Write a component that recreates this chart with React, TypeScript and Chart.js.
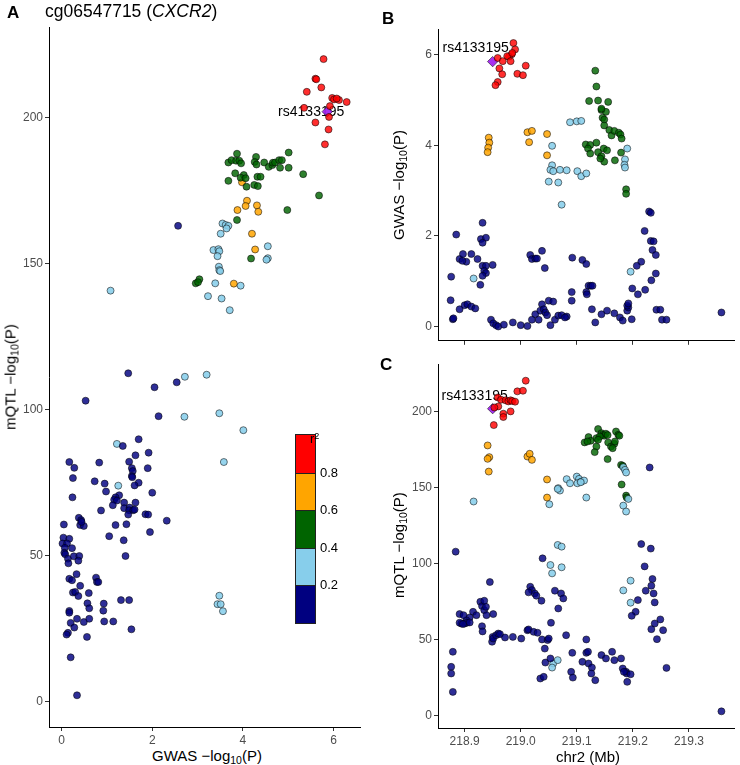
import React, { useEffect, useRef } from 'react';
import { Chart, registerables } from 'chart.js';
Chart.register(...registerables);

type P = [number, number];

// ---------- Panel A: GWAS -log10(P) vs mQTL -log10(P) ----------
const aNavy: P[] = [
  [1.70,89.9],[1.35,87.6],[1.63,84.4],[1.92,85.3],[0.17,82.1],[0.83,81.9],[1.49,82.2],[0.28,80.1],[1.55,80.0],[1.57,79.0],
  [1.55,77.3],[1.56,76.9],[1.90,80.0],[0.25,76.6],[0.73,75.5],[0.95,74.7],[1.70,75.0],[1.61,74.1],[0.98,72.0],[2.00,71.6],
  [0.24,70.0],[1.27,70.7],[1.19,70.0],[1.16,69.2],[1.22,68.9],[1.38,68.2],[1.13,67.3],[1.63,68.2],[1.38,66.3],[1.50,66.5],
  [1.49,65.6],[1.58,65.6],[1.61,65.8],[1.47,64.1],[0.87,65.5],[1.85,64.2],[1.91,64.1],[0.05,60.7],[0.38,63.0],[0.43,62.2],
  [0.41,60.5],[0.49,60.2],[0.44,61.6],[1.19,60.5],[1.43,60.8],[2.32,62.0],[1.05,56.7],[1.95,58.1],[1.37,55.3],[1.41,49.9],
  [0.04,56.2],[0.17,55.8],[0.02,54.2],[0.12,54.2],[0.07,52.7],[0.23,52.6],[0.06,51.0],[0.08,50.5],[0.14,49.0],[0.27,49.8],
  [0.39,49.9],[0.37,48.3],[0.15,47.4],[0.33,43.7],[0.17,42.1],[0.23,41.6],[0.76,42.5],[0.78,41.0],[0.81,41.0],[0.41,39.7],
  [0.25,37.4],[0.30,37.6],[0.37,36.2],[0.60,37.2],[0.57,33.7],[0.93,33.6],[1.31,34.8],[1.49,34.8],[0.61,32.0],[0.92,31.2],
  [0.17,31.1],[0.17,30.5],[0.34,28.4],[0.20,27.0],[0.49,27.3],[0.61,28.4],[0.94,27.5],[1.14,27.5],[0.28,25.4],[1.54,24.8],
  [0.14,23.6],[0.11,23.0],[0.56,22.2],[0.20,15.2],[0.34,2.2],[2.05,107.7],[2.54,109.4],[0.53,103.1],[2.14,97.8],[1.47,112.5],
  [2.57,163.0],
];
const aSky: P[] = [
  [1.22,88.3],[1.25,74.0],[4.01,93.0],[3.58,82.1],[3.48,36.3],[3.44,33.4],[3.51,33.4],[3.56,31.0],[2.71,97.6],[3.48,98.8],
  [1.08,140.8],[2.72,111.3],[3.20,112.0],[3.55,163.8],[3.62,163.3],[3.68,163.0],[3.64,162.1],[3.51,160.3],[3.35,154.7],[3.46,155.0],
  [3.48,154.3],[3.44,152.6],[4.55,156.0],[4.55,151.9],[4.52,151.4],[3.47,149.0],[3.48,147.8],[3.50,147.5],[3.39,143.3],[3.95,142.5],
  [3.23,138.9],[3.53,138.1],[3.71,134.1],
];
const aGreen: P[] = [
  [5.01,188.1],[3.87,187.7],[3.68,184.7],[3.75,185.5],[3.85,185.3],[3.92,185.3],[3.96,184.4],[4.29,186.6],[4.26,184.9],[4.30,184.0],
  [4.47,184.7],[4.57,183.2],[4.65,183.8],[4.66,184.6],[4.71,184.7],[4.80,185.5],[4.86,185.5],[4.82,182.9],[5.01,182.9],[5.33,180.7],
  [3.83,181.0],[4.02,180.4],[3.95,179.5],[4.06,179.3],[3.68,178.4],[4.32,179.8],[4.39,179.8],[4.08,176.4],[4.25,177.0],[4.33,176.6],
  [5.68,173.4],[4.98,168.4],[3.87,165.0],[4.18,151.8],[2.96,143.3],[3.04,144.7],[3.01,143.7],
];
const aOrange: P[] = [
  [3.98,177.9],[4.09,171.6],[4.06,169.8],[3.88,168.4],[4.31,170.0],[4.34,167.8],[4.20,160.3],[4.27,154.9],[3.80,143.2],
];
const aRed: P[] = [
  [5.78,220.1],[5.60,213.4],[5.62,213.2],[5.73,210.4],[5.41,208.9],[5.97,206.8],[6.01,206.3],[6.12,206.1],[6.07,206.6],[6.29,205.4],
  [5.35,203.4],[5.90,200.3],[5.60,198.4],[5.89,196.0],[5.81,190.9],[5.92,204.0],
];
const aLead: P[] = [[5.86,202.1]];

// ---------- Panel B: position (Mb) vs GWAS -log10(P) ----------
const bNavy: P[] = [
  [218.932,2.29],[218.885,2.03],[218.929,1.93],[218.938,1.96],[218.932,1.85],[219.229,2.54],[219.232,2.51],[219.221,2.11],[219.232,1.89],[219.237,1.88],
  [219.235,1.69],[219.241,1.58],[219.241,1.17],[219.233,1.02],[219.038,1.67],[219.017,1.58],[219.020,1.49],[219.026,1.50],[219.029,1.50],[219.043,1.29],
  [219.092,1.52],[219.110,1.47],[219.117,1.38],[218.891,1.49],[218.897,1.60],[218.903,1.43],[218.896,1.45],[218.912,1.60],[218.923,1.49],[218.932,1.34],
  [218.938,1.34],[218.950,1.36],[218.935,1.23],[218.938,1.18],[218.932,1.12],[218.928,0.92],[218.876,1.10],[219.215,1.43],[219.207,1.34],[219.199,0.84],
  [219.209,0.71],[219.222,0.81],[219.121,0.90],[219.125,0.90],[219.128,0.90],[219.117,0.76],[219.118,0.71],[219.091,0.76],[219.091,0.57],[218.875,0.58],
  [218.879,0.16],[218.880,0.18],[218.891,0.38],[218.900,0.47],[218.905,0.49],[218.912,0.44],[218.919,0.40],[219.050,0.57],[219.058,0.55],[219.038,0.49],
  [219.026,0.27],[219.035,0.35],[219.041,0.38],[219.044,0.31],[219.047,0.25],[218.947,0.15],[218.951,0.07],[218.956,0.03],[218.960,0.00],[218.970,0.04],
  [218.986,0.09],[219.000,0.03],[219.012,0.01],[219.020,0.15],[219.032,0.15],[219.053,0.03],[219.061,0.15],[219.067,0.24],[219.073,0.25],[219.082,0.22],
  [219.079,0.20],[219.127,0.38],[219.133,0.09],[219.144,0.27],[219.154,0.35],[219.167,0.29],[219.177,0.20],[219.182,0.13],[219.190,0.35],[219.192,0.42],
  [219.190,0.46],[219.192,0.51],[219.198,0.16],[219.242,0.37],[219.249,0.37],[219.252,0.15],[219.260,0.15],[219.358,0.31],
];
const bSky: P[] = [
  [219.088,4.51],[219.100,4.53],[219.108,4.54],[219.056,3.99],[219.056,3.56],[219.053,3.46],[219.058,3.43],[219.070,3.46],[219.082,3.45],[219.101,3.43],
  [219.108,3.32],[219.117,3.38],[219.067,3.18],[219.050,3.20],[219.073,2.69],[219.190,3.93],[219.186,3.69],[219.185,3.57],[219.186,3.51],[218.916,1.06],
  [219.196,1.21],
];
const bGreen: P[] = [
  [219.133,5.65],[219.135,5.30],[219.122,4.98],[219.138,4.99],[219.156,4.96],[219.144,4.78],[219.152,4.74],[219.144,4.81],[219.146,4.61],[219.149,4.57],
  [219.149,4.44],[219.158,4.34],[219.162,4.22],[219.167,4.32],[219.175,4.28],[219.178,4.24],[219.180,4.15],[219.116,4.02],[219.124,4.01],[219.120,3.93],
  [219.135,4.06],[219.124,3.82],[219.138,3.85],[219.148,3.93],[219.154,3.89],[219.144,3.76],[219.149,3.64],[219.142,3.71],[219.168,3.67],[219.179,3.84],
  [219.188,3.03],[219.188,2.93],
];
const bOrange: P[] = [
  [218.943,4.17],[218.944,4.06],[218.942,3.95],[218.941,3.85],[219.012,4.29],[219.020,4.32],[219.015,4.07],[219.047,4.25],[219.047,3.78],
];
const bRed: P[] = [
  [218.987,6.26],[218.990,6.12],[218.984,6.01],[218.979,5.96],[218.976,5.97],[218.982,5.86],[218.985,6.04],[218.959,5.93],[218.968,5.86],[218.962,5.70],
  [218.967,5.57],[218.994,5.58],[219.004,5.55],[219.009,5.76],[218.959,5.40],[218.955,5.33],
];
const bLead: P[] = [[218.950,5.85]];

// ---------- Panel C: position (Mb) vs mQTL -log10(P) ----------
const cNavy: P[] = [
  [219.230,163.1],[218.884,107.7],[219.215,112.7],[219.232,109.7],[219.221,98.0],[219.039,103.3],[218.945,87.7],[219.235,89.7],[219.233,85.3],[219.237,80.2],
  [219.239,74.3],[219.223,82.0],[219.017,84.6],[219.020,82.4],[219.025,80.2],[219.028,78.7],[219.014,80.9],[219.037,75.4],[219.061,82.0],[219.072,80.2],
  [219.076,76.9],[219.067,70.3],[219.054,60.9],[219.209,75.8],[219.205,68.1],[219.198,65.5],[219.239,60.4],[219.249,63.1],[219.233,56.7],[219.254,56.0],
  [219.243,50.1],[219.260,31.2],[218.928,74.7],[218.931,71.9],[218.935,69.2],[218.938,71.4],[218.935,75.4],[218.939,65.9],[218.931,58.6],[218.932,55.2],
  [218.915,68.1],[218.921,65.9],[218.909,64.4],[218.903,62.6],[218.891,66.6],[218.898,65.9],[218.894,60.4],[218.900,60.4],[218.904,60.9],[218.909,61.1],
  [218.891,60.9],[218.897,60.0],[218.951,66.6],[218.950,51.6],[218.949,48.4],[218.951,50.5],[218.956,52.7],[218.960,53.8],[218.963,53.4],[218.972,51.2],
  [218.986,51.6],[219.001,50.5],[219.012,56.0],[219.014,56.5],[219.023,54.9],[219.030,54.3],[219.038,49.9],[219.048,49.5],[219.043,43.9],[219.044,34.7],
  [219.053,37.4],[219.050,50.5],[219.035,24.2],[219.041,25.3],[219.081,52.7],[219.092,41.1],[219.090,28.6],[219.093,24.8],[219.110,35.2],[219.117,49.9],
  [219.117,41.1],[219.120,41.8],[219.121,34.1],[219.127,31.4],[219.126,27.5],[219.133,23.1],[219.144,39.6],[219.152,37.4],[219.163,41.8],[219.167,36.3],
  [219.179,37.4],[219.182,30.8],[219.188,28.6],[219.189,27.5],[219.190,22.0],[219.196,27.0],[219.184,28.6],[218.876,31.9],[218.876,27.5],[218.879,41.8],
  [218.879,15.4],[219.358,2.6],
];
const cSky: P[] = [
  [219.082,155.4],[219.088,152.7],[219.100,157.1],[219.104,155.6],[219.101,152.7],[219.108,153.8],[219.113,154.5],[219.107,153.4],[219.067,149.5],[219.070,147.9],
  [219.066,149.0],[219.117,143.3],[219.051,138.9],[218.916,140.7],[219.183,163.3],[219.186,161.5],[219.188,159.8],[219.183,138.0],[219.188,134.1],[219.192,142.4],
  [219.066,112.1],[219.073,111.0],[219.053,98.9],[219.056,93.4],[219.073,97.4],[219.196,88.6],[219.183,82.2],[219.196,74.1],[219.058,34.1],[219.056,31.4],
  [219.066,36.3],
];
const cGreen: P[] = [
  [219.138,188.4],[219.144,185.7],[219.147,184.6],[219.149,184.0],[219.152,185.3],[219.155,184.4],[219.121,183.1],[219.125,180.7],[219.114,179.6],[219.119,180.2],
  [219.135,182.4],[219.141,183.5],[219.135,176.9],[219.132,173.2],[219.138,181.3],[219.156,179.6],[219.161,176.9],[219.167,178.7],[219.168,180.2],[219.170,186.8],
  [219.174,184.6],[219.176,184.0],[219.164,175.8],[219.155,168.6],[219.179,164.8],[219.182,164.2],[219.180,151.9],[219.188,144.6],[219.189,143.3],
];
const cOrange: P[] = [
  [218.941,177.6],[218.944,169.9],[218.941,168.8],[218.943,160.4],[219.012,170.3],[219.016,172.1],[219.020,168.1],[219.047,155.2],[219.047,143.3],
];
const cRed: P[] = [
  [219.009,220.2],[218.994,213.2],[219.004,213.6],[218.959,209.2],[218.965,207.7],[218.973,207.3],[218.978,206.6],[218.982,207.3],[218.985,206.8],[218.990,206.4],
  [218.960,203.3],[218.953,202.6],[218.982,200.0],[218.969,198.5],[218.969,196.3],[218.952,191.0],
];
const cLead: P[] = [[218.950,201.8]];

// ---------- ticks / labels ----------
const leadSnp = 'rs4133195';
const aXTicks = [0, 2, 4, 6];
const aYTicks = [0, 50, 100, 150, 200];
const bYTicks = [0, 2, 4, 6];
const cYTicks = [0, 50, 100, 150, 200];
const posTicks = [218.9, 219.0, 219.1, 219.2, 219.3];
const legendBreaks = ['0.8', '0.6', '0.4', '0.2'];

const FONT = '"Liberation Sans", Arial, Helvetica, sans-serif';
const GROUP_COLORS = [
  'rgba(0,0,128,0.82)',
  'rgba(135,206,235,0.88)',
  'rgba(0,100,0,0.82)',
  'rgba(255,165,0,0.85)',
  'rgba(255,0,0,0.82)',
];
const LEAD_COLOR = 'rgba(160,32,240,0.92)';
const LEGEND_COLORS = ['#FF0000', '#FFA500', '#006400', '#87CEEB', '#000080'];

interface PanelOpts {
  groups: P[][];
  lead: P[];
  xMin: number; xMax: number; yMin: number; yMax: number;
  xTicks: number[]; yTicks: number[];
  showXLabels: boolean;
  xFmt: (v: number) => string;
  yWidth: number; xHeight: number; padTop: number; padRight: number;
  labelDx: number; labelDy: number;
}

function makeConfig(o: PanelOpts): any {
  const datasets: any[] = o.groups.map((g, i) => ({
    data: g.map(([x, y]) => ({ x, y })),
    backgroundColor: GROUP_COLORS[i],
    borderColor: 'rgba(0,0,0,0.75)',
    borderWidth: 0.7,
    pointRadius: 3.5,
    pointStyle: 'circle',
  }));
  datasets.push({
    data: o.lead.map(([x, y]) => ({ x, y })),
    backgroundColor: LEAD_COLOR,
    borderColor: 'rgba(0,0,0,0.75)',
    borderWidth: 0.7,
    pointRadius: 5.2,
    pointStyle: 'rectRot',
  });
  const leadIndex = datasets.length - 1;
  const labelPlugin = {
    id: 'leadLabel',
    beforeDatasetsDraw(chart: any) {
      const meta = chart.getDatasetMeta(leadIndex);
      const el = meta.data[0];
      if (!el) return;
      const ctx = chart.ctx;
      ctx.save();
      ctx.font = `14px ${FONT}`;
      ctx.fillStyle = '#000';
      ctx.textAlign = 'center';
      ctx.textBaseline = 'middle';
      ctx.fillText(leadSnp, el.x + o.labelDx, el.y + o.labelDy);
      ctx.restore();
    },
  };
  const grid = { display: true, drawOnChartArea: false, drawTicks: true, tickLength: 4, color: '#333333', lineWidth: 1 };
  const border = { display: true, color: '#000000', width: 1 };
  const tickFont = { family: FONT, size: 12 };
  return {
    type: 'scatter',
    data: { datasets },
    plugins: [labelPlugin],
    options: {
      animation: false,
      responsive: false,
      devicePixelRatio: 1,
      layout: { padding: { top: o.padTop, right: o.padRight, left: 0, bottom: 0 } },
      plugins: { legend: { display: false }, tooltip: { enabled: false }, title: { display: false } },
      scales: {
        x: {
          type: 'linear',
          min: o.xMin, max: o.xMax,
          afterBuildTicks: (s: any) => { s.ticks = o.xTicks.map((v) => ({ value: v })); },
          afterFit: (s: any) => { s.height = o.xHeight; },
          grid, border,
          ticks: { display: o.showXLabels, color: '#4D4D4D', font: tickFont, padding: 2, maxRotation: 0, autoSkip: false, callback: (v: any) => o.xFmt(Number(v)) },
        },
        y: {
          type: 'linear',
          min: o.yMin, max: o.yMax,
          afterBuildTicks: (s: any) => { s.ticks = o.yTicks.map((v) => ({ value: v })); },
          afterFit: (s: any) => { s.width = o.yWidth; },
          grid, border,
          ticks: { color: '#4D4D4D', font: tickFont, padding: 2, autoSkip: false, callback: (v: any) => String(v) },
        },
      },
    },
  };
}

const subStyle: React.CSSProperties = { fontSize: '0.7em', verticalAlign: '-0.3em', lineHeight: 0 };

function AxisTitle({ text, cx, cy, rotate }: { text: string; cx: number; cy: number; rotate?: boolean }) {
  const parts = text.split('10');
  return (
    <div style={{
      position: 'absolute', left: cx, top: cy, whiteSpace: 'nowrap', fontSize: 15, lineHeight: 1, color: '#000',
      transform: rotate ? 'translate(-50%,-50%) rotate(-90deg)' : 'translate(-50%,-50%)',
    }}>
      {parts.length > 1 ? (<>{parts[0]}<span style={subStyle}>10</span>{parts[1]}</>) : text}
    </div>
  );
}

export default function App() {
  const aRef = useRef<HTMLCanvasElement>(null);
  const bRef = useRef<HTMLCanvasElement>(null);
  const cRef = useRef<HTMLCanvasElement>(null);

  useEffect(() => {
    const posFmt = (v: number) => v.toFixed(1);
    const charts = [
      new Chart(aRef.current!, makeConfig({
        groups: [aNavy, aSky, aGreen, aOrange, aRed], lead: aLead,
        xMin: -0.278, xMax: 6.586, yMin: -8.66, yMax: 231.1,
        xTicks: aXTicks, yTicks: aYTicks, showXLabels: true, xFmt: (v) => String(v),
        yWidth: 49, xHeight: 18, padTop: 27, padRight: 3, labelDx: -16, labelDy: 0,
      })),
      new Chart(bRef.current!, makeConfig({
        groups: [bNavy, bSky, bGreen, bOrange, bRed], lead: bLead,
        xMin: 218.8525, xMax: 219.3806, yMin: -0.316, yMax: 6.57,
        xTicks: posTicks, yTicks: bYTicks, showXLabels: false, xFmt: posFmt,
        yWidth: 38, xHeight: 8, padTop: 29, padRight: 2, labelDx: -17, labelDy: -13,
      })),
      new Chart(cRef.current!, makeConfig({
        groups: [cNavy, cSky, cGreen, cOrange, cRed], lead: cLead,
        xMin: 218.8525, xMax: 219.3806, yMin: -8.37, yMax: 231.2,
        xTicks: posTicks, yTicks: cYTicks, showXLabels: true, xFmt: posFmt,
        yWidth: 38, xHeight: 17, padTop: 24, padRight: 2, labelDx: -18, labelDy: -13,
      })),
    ];
    return () => charts.forEach((c) => c.destroy());
  }, []);

  const segH = 37.6;
  return (
    <div style={{ position: 'fixed', left: 0, top: 0, width: 740, height: 765, background: '#fff', fontFamily: FONT, overflow: 'hidden' }}>
      <canvas ref={aRef} width={366} height={745} style={{ position: 'absolute', left: 0, top: 0 }} />
      <canvas ref={bRef} width={340} height={350} style={{ position: 'absolute', left: 400, top: 0 }} />
      <canvas ref={cRef} width={340} height={405} style={{ position: 'absolute', left: 400, top: 340 }} />

      {/* panel letters and title */}
      <div style={{ position: 'absolute', left: 7, top: 3.5, fontSize: 17, fontWeight: 'bold', lineHeight: 1 }}>A</div>
      <div style={{ position: 'absolute', left: 45, top: 2.5, fontSize: 17.5, lineHeight: 1, whiteSpace: 'nowrap' }}>
        cg06547715 (<i>CXCR2</i>)
      </div>
      <div style={{ position: 'absolute', left: 382, top: 9.8, fontSize: 17, fontWeight: 'bold', lineHeight: 1 }}>B</div>
      <div style={{ position: 'absolute', left: 380, top: 356, fontSize: 17, fontWeight: 'bold', lineHeight: 1 }}>C</div>

      {/* axis titles */}
      <AxisTitle text="mQTL −log10(P)" cx={10} cy={377} rotate />
      <AxisTitle text="GWAS −log10(P)" cx={207} cy={755} />
      <AxisTitle text="GWAS −log10(P)" cx={398} cy={185} rotate />
      <AxisTitle text="mQTL −log10(P)" cx={398} cy={545} rotate />
      <AxisTitle text="chr2 (Mb)" cx={588} cy={756} />

      {/* r² colour bar */}
      <div style={{ position: 'absolute', left: 295, top: 434, width: 19, height: segH * 5, border: '1px solid #222', boxSizing: 'content-box' }}>
        {LEGEND_COLORS.map((c, i) => (
          <div key={i} style={{ height: segH, background: c, boxSizing: 'border-box', borderTop: i > 0 ? '1px solid #222' : 'none' }} />
        ))}
      </div>
      {legendBreaks.map((t, i) => (
        <div key={t} style={{ position: 'absolute', left: 320, top: 434 + segH * (i + 1), transform: 'translateY(-50%)', fontSize: 13, lineHeight: 1 }}>{t}</div>
      ))}
      <div style={{ position: 'absolute', left: 310, top: 432, fontSize: 13, lineHeight: 1 }}>
        r<span style={{ fontSize: 9, verticalAlign: '0.45em', lineHeight: 0 }}>2</span>
      </div>
    </div>
  );
}
